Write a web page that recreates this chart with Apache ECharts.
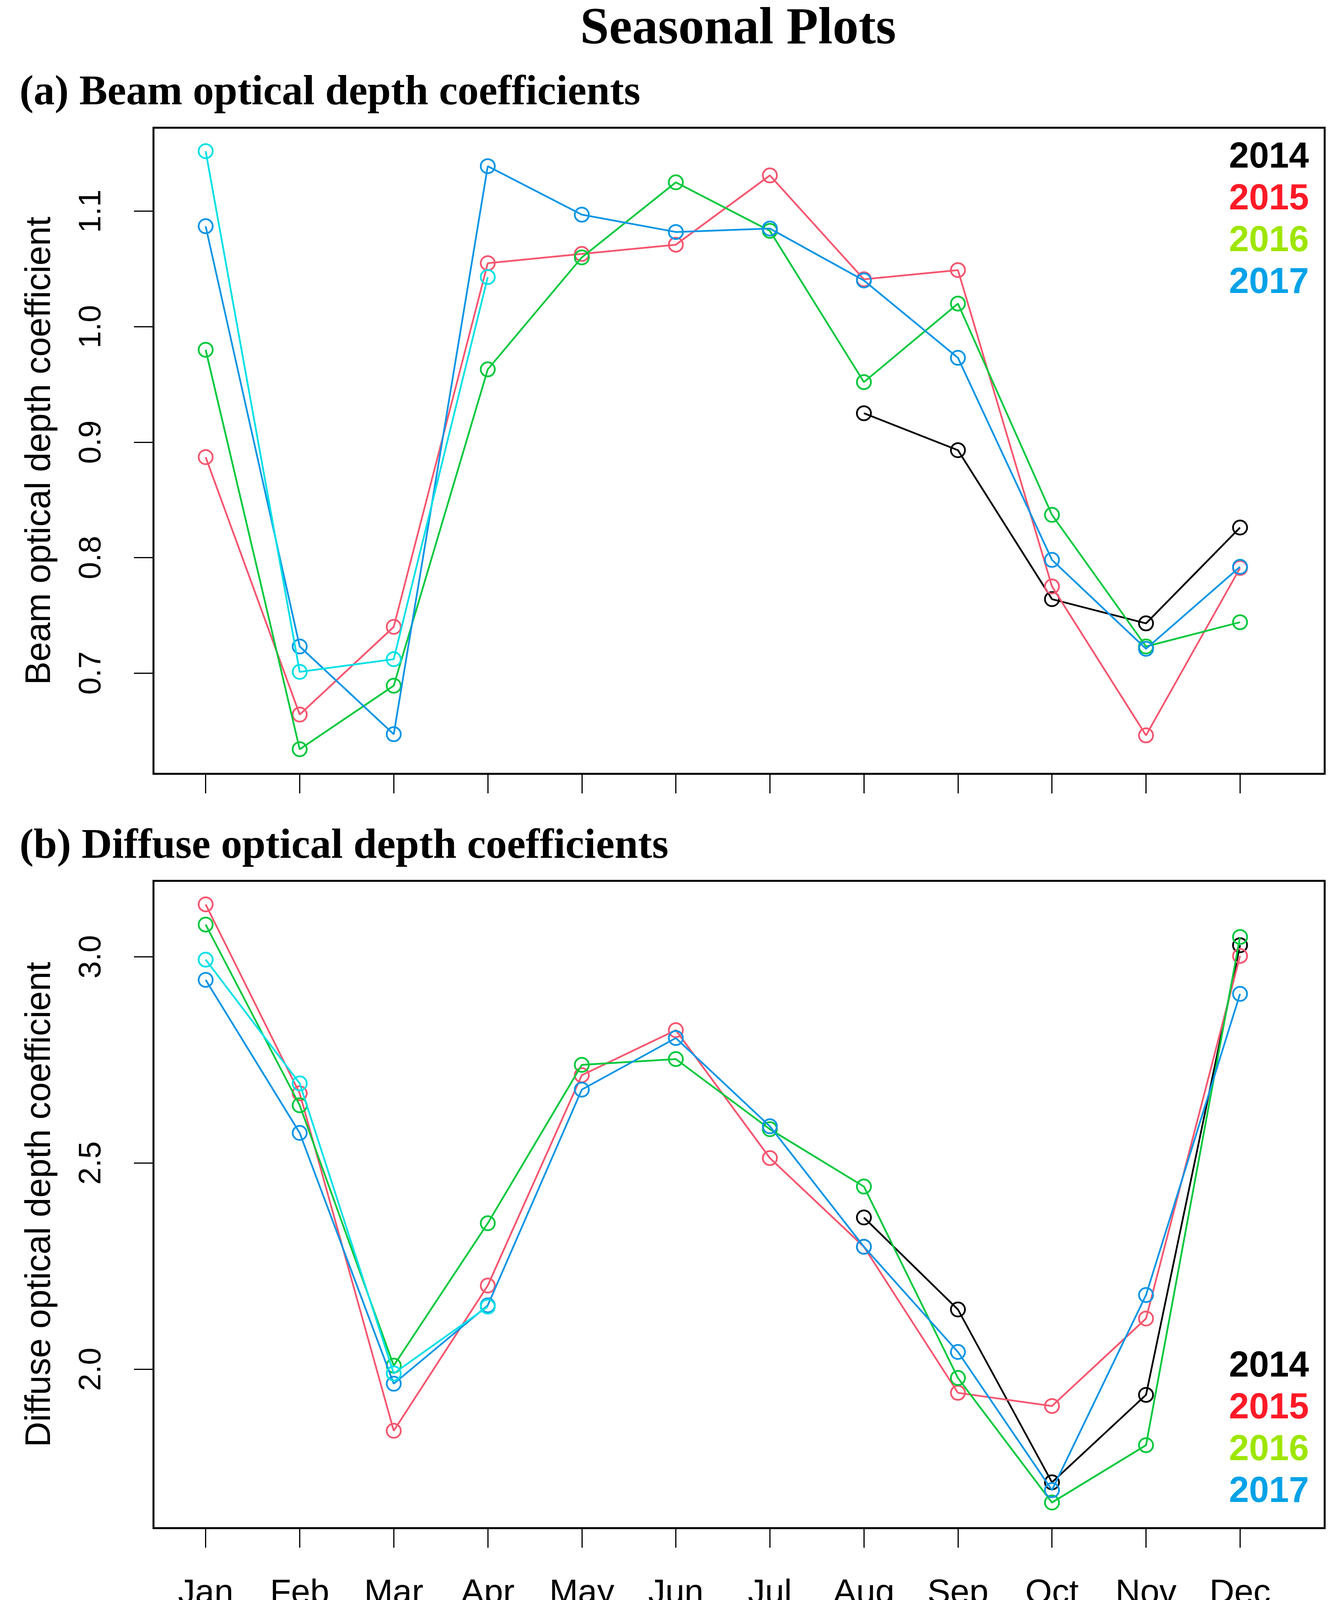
<!DOCTYPE html>
<html>
<head>
<meta charset="utf-8">
<script src="https://cdn.jsdelivr.net/npm/echarts@6/dist/echarts.min.js"></script>
<style>
html,body{margin:0;padding:0;background:#fff;}
#chart{width:3421px;height:4277px;}
</style>
</head>
<body>
<div id="chart"></div>
<script>
// ---- data ----
var months = ['Jan','Feb','Mar','Apr','May','Jun','Jul','Aug','Sep','Oct','Nov','Dec'];
var years = ['2014','2015','2016','2017','2018'];
var legendYears = ['2014','2015','2016','2017'];

var beam2014 = [null,null,null,null,null,null,null,0.925,0.893,0.764,0.743,0.826];
var beam2015 = [0.887,0.664,0.740,1.055,1.063,1.071,1.131,1.041,1.049,0.775,0.646,0.791];
var beam2016 = [0.980,0.634,0.689,0.963,1.060,1.125,1.083,0.952,1.020,0.837,0.723,0.744];
var beam2017 = [1.087,0.723,0.647,1.139,1.097,1.082,1.085,1.040,0.973,0.798,0.721,0.792];
var beam2018 = [1.152,0.701,0.712,1.043,null,null,null,null,null,null,null,null];

var diff2014 = [null,null,null,null,null,null,null,2.368,2.145,1.726,1.938,3.028];
var diff2015 = [3.127,2.669,1.851,2.203,2.713,2.822,2.512,2.297,1.943,1.911,2.123,3.002];
var diff2016 = [3.078,2.640,2.009,2.354,2.738,2.752,2.582,2.443,1.979,1.677,1.816,3.048];
var diff2017 = [2.944,2.573,1.965,2.155,2.678,2.803,2.589,2.297,2.042,1.707,2.180,2.910];
var diff2018 = [2.993,2.693,1.990,2.152,null,null,null,null,null,null,null,null];

var beamTicks = [0.7,0.8,0.9,1.0,1.1];
var diffTicks = [2.0,2.5,3.0];
var monthTicks = [1,2,3,4,5,6,7,8,9,10,11,12];

// ---- styles ----
var lineColors = {'2014':'#000000','2015':'#F5566F','2016':'#00C83C','2017':'#0B95E5','2018':'#00E0E6'};
var legendColors = {'2014':'#000000','2015':'#FF1A26','2016':'#9EE600','2017':'#00A2E8'};
var SANS = 'Liberation Sans';
var SERIF = 'Liberation Serif';

var beamData = [beam2014, beam2015, beam2016, beam2017, beam2018];
var diffData = [diff2014, diff2015, diff2016, diff2017, diff2018];

function toPairs(arr){
  return arr.map(function(v,i){ return [i+1, v]; });
}

var series = [];
function addSeries(dataArr, gridIdx){
  years.forEach(function(y, k){
    var c = lineColors[y];
    series.push({
      name: y,
      type: 'line',
      xAxisIndex: gridIdx,
      yAxisIndex: gridIdx,
      data: toPairs(dataArr[k]),
      connectNulls: false,
      symbol: 'circle',
      symbolSize: 36,
      lineStyle: {color: c, width: 4.5},
      itemStyle: {color: 'rgba(0,0,0,0)', borderColor: c, borderWidth: 4.5},
      emphasis: {disabled: true},
      z: 2 + k
    });
  });
}
addSeries(beamData, 0);
addSeries(diffData, 1);

function legendItems(){
  return legendYears.map(function(y){
    return {name: y, icon: 'none', textStyle: {color: legendColors[y]}};
  });
}
function makeLegend(top){
  return {
    data: legendItems(),
    orient: 'vertical',
    left: 3142,
    top: top,
    padding: 0,
    itemGap: 0,
    itemWidth: 0,
    itemHeight: 107,
    selectedMode: false,
    textStyle: {fontSize: 92, fontWeight: 'bold', fontFamily: SANS, lineHeight: 107}
  };
}

function xAxisCfg(gridIdx, showLabels){
  return {
    type: 'value',
    gridIndex: gridIdx,
    min: 0.445,
    max: 12.9,
    splitLine: {show: false},
    axisLine: {show: false},
    axisTick: {show: true, inside: false, length: 50, customValues: monthTicks,
               lineStyle: {color: '#000', width: 3}},
    axisLabel: {show: showLabels, customValues: monthTicks, margin: 124,
                fontSize: 88, fontFamily: SANS, color: '#000',
                formatter: function(v){ return months[Math.round(v)-1] || ''; }},
    name: showLabels ? 'Month' : '',
    nameLocation: 'middle',
    nameGap: 265,
    nameTextStyle: {fontSize: 88, fontFamily: SANS, color: '#000'}
  };
}

function yAxisCfg(gridIdx, min, max, ticks, name){
  return {
    type: 'value',
    gridIndex: gridIdx,
    min: min,
    max: max,
    splitLine: {show: false},
    axisLine: {show: false},
    axisTick: {show: true, inside: false, length: 50, customValues: ticks,
               lineStyle: {color: '#000', width: 3}},
    axisLabel: {show: true, customValues: ticks, rotate: 90, margin: 118,
                fontSize: 80, fontFamily: SANS, color: '#000',
                formatter: function(v){ return v.toFixed(1); }},
    name: name,
    nameLocation: 'middle',
    nameRotate: 90,
    nameGap: 245,
    nameTextStyle: {fontSize: 90, fontFamily: SANS, color: '#000'}
  };
}

var option = {
  animation: false,
  backgroundColor: '#ffffff',
  title: [
    {text: 'Seasonal Plots', left: 1890, top: 10, textAlign: 'center', padding: 0,
     textStyle: {fontSize: 133, fontWeight: 'bold', fontFamily: SERIF, color: '#000', lineHeight: 133}},
    {text: '(a) Beam optical depth coefficients', left: 50, top: 185, padding: 0,
     textStyle: {fontSize: 108, fontWeight: 'bold', fontFamily: SERIF, color: '#000', lineHeight: 108}},
    {text: '(b) Diffuse optical depth coefficients', left: 50, top: 2114, padding: 0,
     textStyle: {fontSize: 108, fontWeight: 'bold', fontFamily: SERIF, color: '#000', lineHeight: 108}}
  ],
  legend: [makeLegend(350), makeLegend(3445)],
  grid: [
    {left: 393, right: 29, top: 327, height: 1654, show: true, borderColor: '#000', borderWidth: 5, backgroundColor: 'rgba(0,0,0,0)'},
    {left: 393, right: 29, top: 2255, height: 1657, show: true, borderColor: '#000', borderWidth: 5, backgroundColor: 'rgba(0,0,0,0)'}
  ],
  xAxis: [xAxisCfg(0, false), xAxisCfg(1, true)],
  yAxis: [
    yAxisCfg(0, 0.6127, 1.1723, beamTicks, 'Beam optical depth coefficient'),
    yAxisCfg(1, 1.615, 3.184, diffTicks, 'Diffuse optical depth coefficient')
  ],
  series: series
};

var chart = echarts.init(document.getElementById('chart'), null, {renderer: 'canvas'});
chart.setOption(option);
</script>
</body>
</html>
